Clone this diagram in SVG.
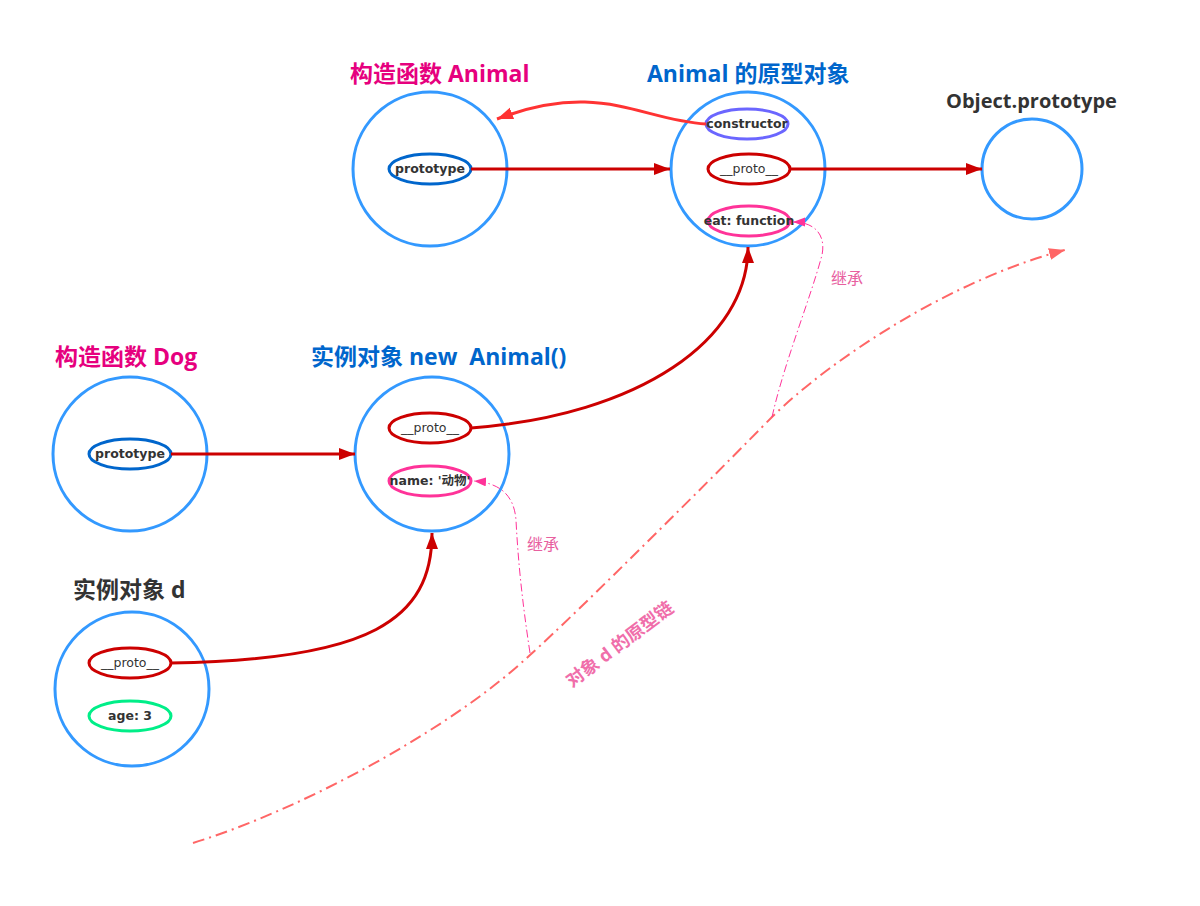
<svg xmlns="http://www.w3.org/2000/svg" width="1200" height="906" viewBox="0 0 1200 906">
<defs>
<style>
.box{fill:#fff;stroke:#3399FF;stroke-width:3}
.ell{fill:#fff;stroke-width:3}
.t{font-family:"DejaVu Sans","Noto Sans CJK SC",sans-serif;font-size:12.5px;fill:#333;text-anchor:middle}
.b{font-weight:bold}
.h{font-family:"Open Sans","Noto Sans CJK SC",sans-serif;font-size:23px;font-weight:bold}
.link{fill:none;stroke:#CC0000;stroke-width:3}
.inh{fill:none;stroke:#FF3399;stroke-width:1;stroke-dasharray:8 3 1.5 3}
.lbl{font-family:"Noto Sans CJK SC","Open Sans",sans-serif;font-size:16px;fill:#E8609F}
</style>
<marker id="ar" markerUnits="userSpaceOnUse" markerWidth="18" markerHeight="14" refX="16" refY="6" orient="auto"><path d="M0,0 L16,6 L0,12 z" fill="#CC0000"/></marker>
<marker id="ar2" markerUnits="userSpaceOnUse" markerWidth="18" markerHeight="14" refX="16" refY="6" orient="auto"><path d="M0,0 L16,6 L0,12 z" fill="#FF3333"/></marker>
<marker id="ap" markerUnits="userSpaceOnUse" markerWidth="14" markerHeight="10" refX="12" refY="4.5" orient="auto"><path d="M0,0 L12,4.5 L0,9 z" fill="#FF3399"/></marker>
<marker id="ao" markerUnits="userSpaceOnUse" markerWidth="18" markerHeight="14" refX="16" refY="6" orient="auto"><path d="M0,0 L16,6 L0,12 z" fill="#FF6666"/></marker>
</defs>
<rect width="1200" height="906" fill="#fff"/>

<g id="chain">
<path d="M193,843 C300,810 450,730 530,655 C580,610 720,470 772,417 C830,360 950,280 1065,250" fill="none" stroke="#FF6666" stroke-width="2" stroke-dasharray="12 5 2 5" marker-end="url(#ao)"/>
<text font-weight="bold" font-family="Open Sans,Noto Sans CJK SC,sans-serif" font-size="18" fill="#F06EAA" transform="translate(572,688) rotate(-37)">对象 d 的原型链</text>
</g>

<g id="animal-ctor">
<text class="h" x="350" y="82" fill="#E6007E">构造函数 Animal</text>
<circle class="box" cx="430" cy="169" r="77"/>
<ellipse class="ell" cx="430" cy="169" rx="41" ry="15" stroke="#0066CC"/>
<text class="t b" x="430" y="173">prototype</text>
</g>

<g id="animal-proto">
<text class="h" x="647" y="82" fill="#0066CC">Animal 的原型对象</text>
<circle class="box" cx="748" cy="169" r="77"/>
<ellipse class="ell" cx="747" cy="124" rx="41" ry="15" stroke="#6B66FF"/>
<text class="t b" x="747" y="128">constructor</text>
<ellipse class="ell" cx="749" cy="169" rx="41" ry="15" stroke="#CC0000"/>
<text class="t" x="749" y="173">__proto__</text>
<ellipse class="ell" cx="749" cy="221" rx="41" ry="15" stroke="#FF3399"/>
<text class="t b" x="749" y="225">eat: function</text>
</g>

<g id="object-proto">
<text class="h" x="946" y="108" fill="#333" style="font-size:20px">Object.prototype</text>
<circle class="box" cx="1032" cy="169" r="50"/>
</g>

<g id="dog-ctor">
<text class="h" x="55" y="365" fill="#E6007E">构造函数 Dog</text>
<circle class="box" cx="130" cy="454" r="77"/>
<ellipse class="ell" cx="130" cy="454" rx="41" ry="15" stroke="#0066CC"/>
<text class="t b" x="130" y="458">prototype</text>
</g>

<g id="animal-instance">
<text class="h" x="311" y="365" fill="#0066CC" xml:space="preserve">实例对象 new  Animal()</text>
<circle class="box" cx="432" cy="454" r="77"/>
<ellipse class="ell" cx="430" cy="428" rx="41" ry="15" stroke="#CC0000"/>
<text class="t" x="430" y="432">__proto__</text>
<ellipse class="ell" cx="430" cy="481" rx="41" ry="15" stroke="#FF3399"/>
<text class="t b" x="430" y="485">name: '动物'</text>
</g>

<g id="dog-instance">
<text class="h" x="73" y="598" fill="#333">实例对象 d</text>
<circle class="box" cx="132" cy="689" r="77"/>
<ellipse class="ell" cx="130" cy="663" rx="41" ry="15" stroke="#CC0000"/>
<text class="t" x="130" y="667">__proto__</text>
<ellipse class="ell" cx="130" cy="716" rx="41" ry="15" stroke="#00EE88"/>
<text class="t b" x="130" y="720">age: 3</text>
</g>

<g id="connectors">
<path class="link" d="M471,169 L670,169" marker-end="url(#ar)"/>
<path class="link" d="M790,169 L982,169" marker-end="url(#ar)"/>
<path class="link" d="M171,454 L355,454" marker-end="url(#ar)"/>
<path d="M706,124 C640,120 600,80 497,119" fill="none" stroke="#FF3333" stroke-width="3" marker-end="url(#ar2)"/>
<path class="link" d="M471,428 C640,415 748,340 748,247" marker-end="url(#ar)"/>
<path class="link" d="M171,663 C370,660 432,620 432,533" marker-end="url(#ar)"/>
<path class="inh" d="M530,653 C522,600 518,560 516,520 C514,495 500,483 474,481" marker-end="url(#ap)"/>
<path class="inh" d="M772,417 C785,360 810,300 822,255 C826,235 815,222 793,222" marker-end="url(#ap)"/>
<text class="lbl" x="527" y="550">继承</text>
<text class="lbl" x="831" y="284">继承</text>
</g>
</svg>
